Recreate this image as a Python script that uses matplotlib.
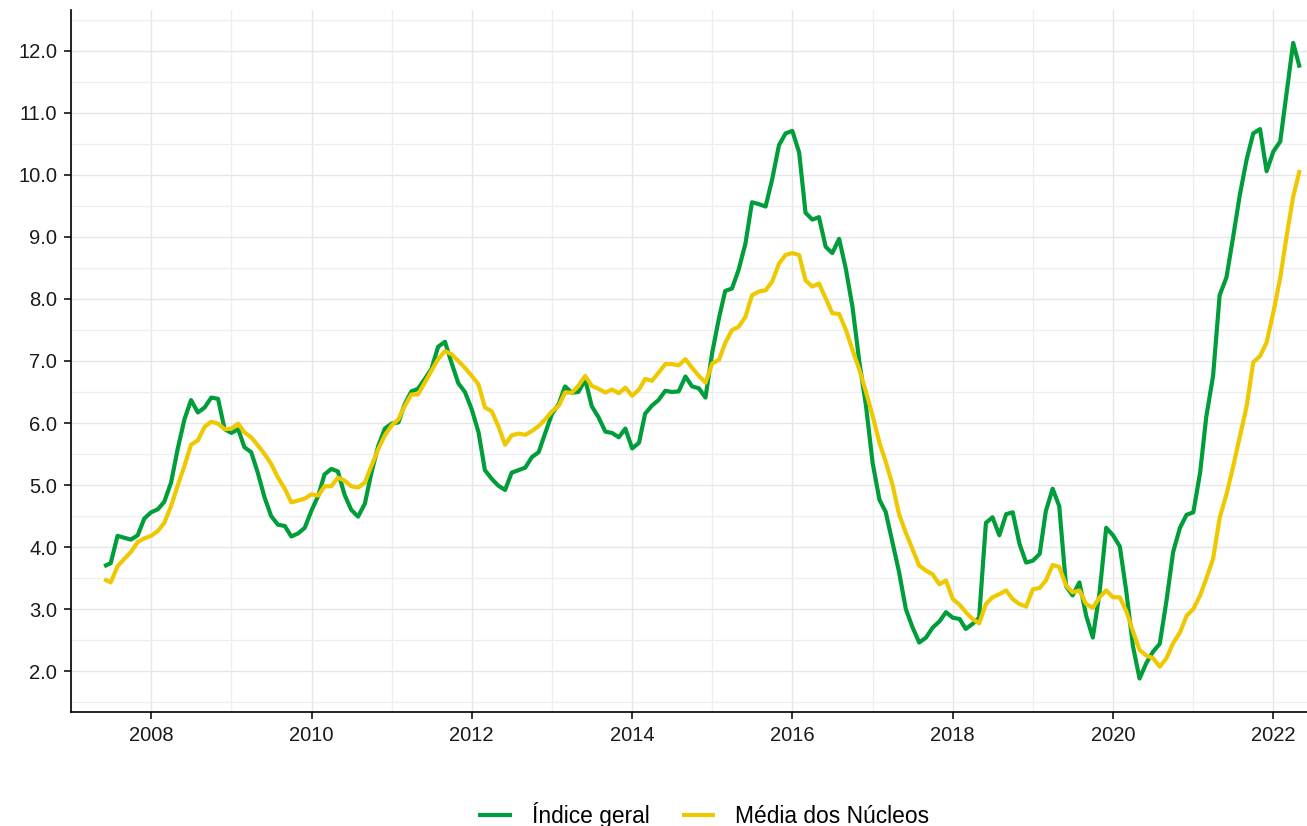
import matplotlib
matplotlib.use("Agg")
import matplotlib.pyplot as plt
import matplotlib.dates as mdates
from matplotlib.ticker import MultipleLocator, FormatStrFormatter
import pandas as pd

start_month = "2007-06-01"

indice_geral = [
    3.69, 3.74, 4.18, 4.15, 4.12, 4.19, 4.46,
    4.56, 4.61, 4.73, 5.04, 5.58, 6.06, 6.37, 6.17, 6.25, 6.41, 6.39, 5.90,
    5.84, 5.90, 5.61, 5.53, 5.20, 4.80, 4.50, 4.36, 4.34, 4.17, 4.22, 4.31,
    4.59, 4.83, 5.17, 5.26, 5.22, 4.84, 4.60, 4.49, 4.70, 5.20, 5.63, 5.91,
    5.99, 6.01, 6.30, 6.51, 6.55, 6.71, 6.87, 7.23, 7.31, 6.97, 6.64, 6.50,
    6.22, 5.85, 5.24, 5.10, 4.99, 4.92, 5.20, 5.24, 5.28, 5.45, 5.53, 5.84,
    6.15, 6.31, 6.59, 6.49, 6.50, 6.70, 6.27, 6.09, 5.86, 5.84, 5.77, 5.91,
    5.59, 5.68, 6.15, 6.28, 6.37, 6.52, 6.50, 6.51, 6.75, 6.59, 6.56, 6.41,
    7.14, 7.70, 8.13, 8.17, 8.47, 8.89, 9.56, 9.53, 9.49, 9.93, 10.48, 10.67,
    10.71, 10.36, 9.39, 9.28, 9.32, 8.84, 8.74, 8.97, 8.48, 7.87, 6.99, 6.29,
    5.35, 4.76, 4.57, 4.08, 3.60, 3.00, 2.71, 2.46, 2.54, 2.70, 2.80, 2.95,
    2.86, 2.84, 2.68, 2.76, 2.86, 4.39, 4.48, 4.19, 4.53, 4.56, 4.05, 3.75,
    3.78, 3.89, 4.58, 4.94, 4.66, 3.37, 3.22, 3.43, 2.89, 2.54, 3.27, 4.31,
    4.19, 4.01, 3.30, 2.40, 1.88, 2.13, 2.31, 2.44, 3.14, 3.92, 4.31, 4.52,
    4.56, 5.20, 6.10, 6.76, 8.06, 8.35, 8.99, 9.68, 10.25, 10.67, 10.74, 10.06,
    10.38, 10.54, 11.30, 12.13, 11.73,
]

media_nucleos = [
    3.48, 3.43, 3.69, 3.81, 3.92, 4.08, 4.14,
    4.18, 4.26, 4.39, 4.66, 4.99, 5.31, 5.65, 5.72, 5.94, 6.02, 5.99, 5.90,
    5.91, 5.99, 5.85, 5.77, 5.64, 5.50, 5.34, 5.12, 4.94, 4.72, 4.75, 4.78,
    4.85, 4.83, 4.98, 4.98, 5.12, 5.07, 4.98, 4.96, 5.04, 5.31, 5.58, 5.80,
    5.96, 6.06, 6.27, 6.46, 6.46, 6.65, 6.84, 7.03, 7.16, 7.11, 7.00, 6.89,
    6.76, 6.62, 6.25, 6.19, 5.95, 5.65, 5.80, 5.83, 5.81, 5.87, 5.95, 6.06,
    6.19, 6.28, 6.49, 6.49, 6.60, 6.76, 6.60, 6.55, 6.49, 6.54, 6.48, 6.57,
    6.44, 6.54, 6.71, 6.68, 6.81, 6.95, 6.95, 6.93, 7.03, 6.89, 6.76, 6.65,
    6.96, 7.02, 7.29, 7.50, 7.55, 7.71, 8.06, 8.12, 8.14, 8.28, 8.57, 8.71,
    8.74, 8.71, 8.30, 8.20, 8.25, 8.01, 7.77, 7.76, 7.50, 7.18, 6.86, 6.51,
    6.11, 5.68, 5.38, 5.01, 4.53, 4.23, 3.97, 3.70, 3.62, 3.56, 3.40, 3.46,
    3.16, 3.07, 2.95, 2.84, 2.77, 3.08, 3.19, 3.24, 3.30, 3.16, 3.08, 3.04,
    3.32, 3.34, 3.46, 3.71, 3.68, 3.38, 3.27, 3.30, 3.08, 3.02, 3.19, 3.30,
    3.19, 3.19, 2.97, 2.64, 2.34, 2.25, 2.21, 2.07, 2.21, 2.45, 2.62, 2.89,
    3.00, 3.22, 3.49, 3.81, 4.47, 4.85, 5.29, 5.78, 6.27, 6.98, 7.08, 7.30,
    7.79, 8.34, 8.99, 9.65, 10.08,
]

series_labels = ["Índice geral", "Média dos Núcleos"]
series_colors = ["#009E3A", "#EEC800"]

dates = pd.date_range(start_month, periods=len(indice_geral), freq="MS")

plt.rcParams["font.family"] = ["Liberation Sans", "DejaVu Sans"]

fig = plt.figure(figsize=(13.07, 8.26), dpi=100)
ax = fig.add_axes([71 / 1307, 114 / 826, 1 - 71 / 1307, (712 - 10) / 826])

for vals, lab, col in zip([indice_geral, media_nucleos], series_labels, series_colors):
    ax.plot(dates, vals, color=col, lw=3.0, label=lab, solid_joinstyle="round",
            solid_capstyle="butt")

ax.set_xlim(pd.Timestamp("2007-01-01"), pd.Timestamp("2022-06-03"))
ax.set_ylim(1.34, 12.66)

ax.xaxis.set_major_locator(mdates.YearLocator(2))
ax.xaxis.set_minor_locator(mdates.YearLocator(1))
ax.xaxis.set_major_formatter(mdates.DateFormatter("%Y"))
ax.yaxis.set_major_locator(MultipleLocator(1.0))
ax.yaxis.set_minor_locator(MultipleLocator(0.5))
ax.yaxis.set_major_formatter(FormatStrFormatter("%.1f"))

ax.grid(which="major", color="#E6E6E6", lw=1.0)
ax.grid(which="minor", color="#EEEEEE", lw=0.9)
ax.set_axisbelow(True)

for s in ["top", "right"]:
    ax.spines[s].set_visible(False)
for s in ["left", "bottom"]:
    ax.spines[s].set_color("black")
    ax.spines[s].set_linewidth(1.2)

ax.tick_params(which="major", direction="out", length=5, width=1.1, color="black",
               labelsize=14.5, labelcolor="#1a1a1a", pad=5)
ax.tick_params(which="minor", length=0)

fig.legend(loc="center", bbox_to_anchor=(704 / 1307, 11 / 826), ncol=2, frameon=False,
           fontsize=16.4, handlelength=1.45, handletextpad=0.88, columnspacing=1.45,
           borderpad=0.0, borderaxespad=0.0)

fig.savefig("out.png", dpi=100)
